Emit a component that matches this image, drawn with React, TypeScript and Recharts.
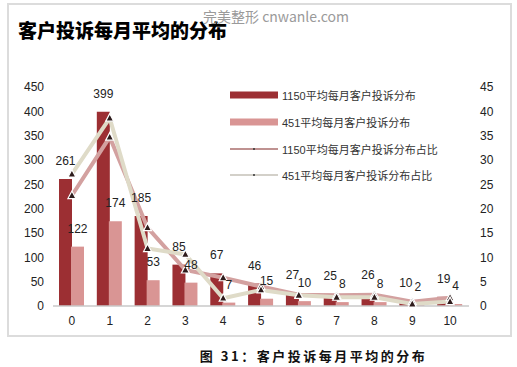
import React from 'react';
import { ComposedChart, Bar, Line, XAxis, YAxis, LabelList, Legend } from 'recharts';

const categories = ['0', '1', '2', '3', '4', '5', '6', '7', '8', '9', '10'];
const counts1150 = [261, 399, 185, 85, 67, 46, 27, 25, 26, 10, 19];
const counts451 = [122, 174, 53, 48, 7, 15, 10, 8, 8, 2, 4];
// share of each bucket, in percent (right axis)
const share1150 = [22.7, 34.7, 16.1, 7.4, 5.8, 4.0, 2.3, 2.2, 2.3, 0.9, 1.7];
const share451 = [27.1, 38.6, 11.8, 10.6, 1.6, 3.3, 2.2, 1.8, 1.8, 0.4, 0.9];

const leftTicks = [0, 50, 100, 150, 200, 250, 300, 350, 400, 450];
const rightTicks = [0, 5, 10, 15, 20, 25, 30, 35, 40, 45];

const chartData = categories.map((c, i) => ({
  cat: c,
  c1150: counts1150[i],
  c451: counts451[i],
  s1150: share1150[i],
  s451: share451[i],
}));

const FONT = "'Liberation Sans', 'Noto Sans CJK SC', sans-serif";
const DARK = '#9c2f33';
const PINK = '#d99594';
const LINE1 = '#d3a1a0';
const LINE2 = '#dfdbc8';

const legendItems = [
  { name: '1150平均每月客户投诉分布', color: DARK, type: 'bar' },
  { name: '451平均每月客户投诉分布', color: PINK, type: 'bar' },
  { name: '1150平均每月客户投诉分布占比', color: '#bf9291', type: 'line' },
  { name: '451平均每月客户投诉分布占比', color: '#d3d0c9', type: 'line' },
];

const Triangle = (props: any) => {
  const { cx, cy, index } = props;
  if (cx == null || cy == null) return null;
  return (
    <polygon
      key={index}
      points={`${cx},${cy - 4.5} ${cx + 4},${cy + 3} ${cx - 4},${cy + 3}`}
      fill="#2e1c1c"
      stroke="#ffffff"
      strokeWidth={1.2}
    />
  );
};

const renderLegend = () => (
  <div style={{ fontFamily: FONT, fontSize: 11, color: '#333' }}>
    {legendItems.map((item) => (
      <div key={item.name} style={{ display: 'flex', alignItems: 'center', height: 26.7 }}>
        <svg width={48} height={10} style={{ marginRight: 4 }}>
          {item.type === 'bar' ? (
            <rect x={0} y={1.5} width={48} height={7} fill={item.color} />
          ) : (
            <>
              <line x1={0} y1={5} x2={48} y2={5} stroke={item.color} strokeWidth={2} />
              <circle cx={24} cy={5} r={1} fill="#333" />
            </>
          )}
        </svg>
        <span>{item.name}</span>
      </div>
    ))}
  </div>
);

export default function App() {
  return (
    <div style={{ position: 'absolute', left: 0, top: 0, width: 517, height: 367, background: '#fff' }}>
      <div
        style={{
          position: 'absolute',
          left: 7,
          top: 3,
          width: 501,
          height: 330,
          border: '2px solid #dcdcdc',
        }}
      />
      <div
        style={{
          position: 'absolute',
          left: 18,
          top: 19,
          fontFamily: "'Noto Sans CJK SC', sans-serif",
          fontWeight: 900,
          fontSize: 19,
          color: '#000',
          lineHeight: '22px',
        }}
      >
        客户投诉每月平均的分布
      </div>
      <div
        style={{
          position: 'absolute',
          left: 203,
          top: 7,
          fontFamily: "'Noto Sans CJK SC', sans-serif",
          fontSize: 14,
          color: '#9a9a9a',
          lineHeight: '18px',
        }}
      >
        完美整形 cnwanle.com
      </div>
      <div style={{ position: 'absolute', left: 0, top: 0 }}>
        <ComposedChart
          width={517}
          height={340}
          data={chartData}
          margin={{ top: 87, right: 8, bottom: 4, left: 13 }}
          barSize={13}
          barGap={-1}
          style={{ fontFamily: FONT }}
        >
          <XAxis
            dataKey="cat"
            tickLine={false}
            axisLine={{ stroke: '#c8c8c8', strokeWidth: 1.5 }}
            tick={{ fill: '#222', fontSize: 12 }}
            tickMargin={4}
            height={30}
          />
          <YAxis
            yAxisId="left"
            domain={[0, 450]}
            ticks={leftTicks}
            axisLine={false}
            tickLine={false}
            tick={{ fill: '#222', fontSize: 12 }}
            tickMargin={3}
            width={40}
          />
          <YAxis
            yAxisId="right"
            orientation="right"
            domain={[0, 45]}
            ticks={rightTicks}
            axisLine={false}
            tickLine={false}
            tick={{ fill: '#222', fontSize: 12 }}
            tickMargin={5}
            width={40}
          />
          <Legend
            content={renderLegend}
            layout="vertical"
            verticalAlign="middle"
            align="center"
            wrapperStyle={{ position: 'absolute', left: 230, top: 82, width: 220 }}
          />
          <Bar yAxisId="left" dataKey="c1150" fill={DARK} isAnimationActive={false}>
            <LabelList dataKey="c1150" position="top" offset={14} fill="#222" fontSize={12} />
          </Bar>
          <Bar yAxisId="left" dataKey="c451" fill={PINK} isAnimationActive={false}>
            <LabelList dataKey="c451" position="top" offset={14} fill="#222" fontSize={12} />
          </Bar>
          <Line
            yAxisId="right"
            dataKey="s1150"
            stroke={LINE1}
            strokeWidth={4}
            dot={Triangle}
            activeDot={false}
            isAnimationActive={false}
          />
          <Line
            yAxisId="right"
            dataKey="s451"
            stroke={LINE2}
            strokeWidth={4}
            dot={Triangle}
            activeDot={false}
            isAnimationActive={false}
          />
        </ComposedChart>
      </div>
      <div
        style={{
          position: 'absolute',
          left: 0,
          width: 517,
          top: 347,
          textAlign: 'center',
          paddingLeft: 110,
          boxSizing: 'border-box',
          fontFamily: "'Noto Sans CJK SC', serif",
          fontWeight: 700,
          fontSize: 13,
          letterSpacing: 2.5,
          color: '#111',
          lineHeight: '18px',
        }}
      >
        图 31：客户投诉每月平均的分布
      </div>
    </div>
  );
}
